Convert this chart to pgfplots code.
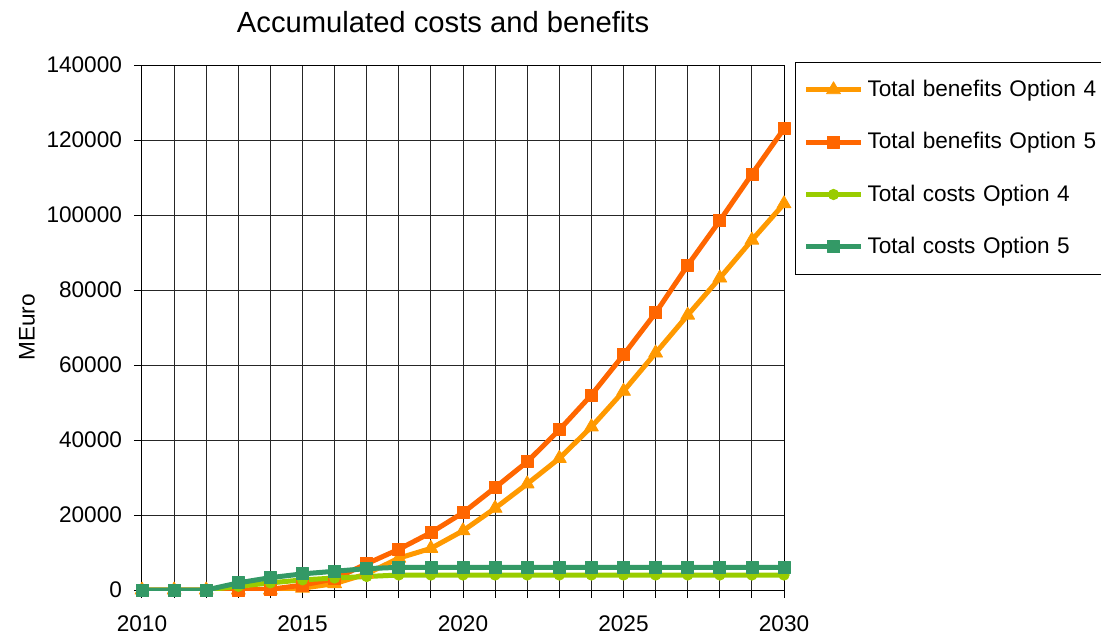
\documentclass[border=0pt]{standalone}
\usepackage{fontspec}
\setmainfont{Liberation Sans}
\usepackage{pgfplots}
\pgfplotsset{compat=1.18}
\definecolor{cOrange}{HTML}{FF9900}
\definecolor{cDarkOrange}{HTML}{FF6600}
\definecolor{cLightGreen}{HTML}{99CC00}
\definecolor{cSeaGreen}{HTML}{339966}
\begin{document}
\begin{tikzpicture}
\begin{axis}[
  name=ax,
  width=321pt, height=262.5pt, scale only axis,
  xmin=2010, xmax=2030, ymin=0, ymax=140000,
  xtick={2010,2011,...,2030},
  xticklabels={2010,,,,,2015,,,,,2020,,,,,2025,,,,,2030},
  ytick={0,20000,...,140000},
  scaled y ticks=false,
  yticklabel style={/pgf/number format/fixed,/pgf/number format/1000 sep={}, xshift=-2.5pt},
  xticklabel style={yshift=-5.5pt},
  /pgf/number format/assume math mode=true,
  tick label style={font=\fontsize{11.3pt}{13pt}\selectfont, black},
  tick pos=left,
  tick align=outside, major tick length=4pt,
  tick style={black, line width=0.5pt},
  grid=major,
  major grid style={black!85, line width=0.5pt},
  axis line style={black, line width=0.5pt},
  title={Accumulated costs and benefits},
  title style={font=\fontsize{14.6pt}{17pt}\selectfont, at={(0.469,1)}, anchor=center, yshift=15.5pt},
  ylabel={MEuro},
  ylabel style={font=\fontsize{11.3pt}{13pt}\selectfont, at={(axis description cs:-0.179,0.5)}, anchor=center},
  legend style={at={(1.017,1.006)}, anchor=north west, draw=black, line width=0.6pt,
    font=\fontsize{11.3pt}{13pt}\selectfont, row sep=12.5pt, inner xsep=4pt, inner ysep=6.8pt,
    text width=118pt},
  legend cell align=left,
  legend image code/.code={\draw[mark repeat=2,mark phase=2] plot coordinates {(0pt,0pt)(13.75pt,0pt)(27.5pt,0pt)};},
  every axis plot/.append style={line width=2.5pt, line join=round},
]
\addplot[color=cOrange, mark=triangle*, mark size=4pt, mark options={solid, line width=0.4pt}] coordinates {
(2010,0)(2011,0)(2012,0)(2013,0)(2014,0)(2015,500)(2016,1700)(2017,4300)(2018,8500)(2019,11100)
(2020,15800)(2021,21800)(2022,28300)(2023,35100)(2024,43500)(2025,53000)(2026,63200)(2027,73300)
(2028,83200)(2029,93300)(2030,103000)};
\addlegendentry{Total benefits Option 4}
\addplot[color=cDarkOrange, mark=square*, mark size=3pt, mark options={solid, line width=0.4pt}] coordinates {
(2010,0)(2011,0)(2012,0)(2013,0)(2014,200)(2015,1300)(2016,3000)(2017,7000)(2018,10850)(2019,15300)
(2020,20600)(2021,27300)(2022,34200)(2023,42700)(2024,52000)(2025,62700)(2026,73900)(2027,86600)
(2028,98500)(2029,110900)(2030,123000)};
\addlegendentry{Total benefits Option 5}
\addplot[color=cLightGreen, mark=*, mark size=2.6pt, mark options={solid, line width=0.4pt}] coordinates {
(2010,0)(2011,0)(2012,0)(2013,1000)(2014,1900)(2015,2700)(2016,3200)(2017,3600)(2018,4000)(2019,4000)
(2020,4000)(2021,4000)(2022,4000)(2023,4000)(2024,4000)(2025,4000)(2026,4000)(2027,4000)
(2028,4000)(2029,4000)(2030,4000)};
\addlegendentry{Total costs Option 4}
\addplot[color=cSeaGreen, mark=square*, mark size=3pt, mark options={solid, line width=0.4pt}] coordinates {
(2010,0)(2011,0)(2012,0)(2013,1900)(2014,3300)(2015,4300)(2016,5000)(2017,5700)(2018,6050)(2019,6050)
(2020,6050)(2021,6050)(2022,6050)(2023,6050)(2024,6050)(2025,6050)(2026,6050)(2027,6050)
(2028,6050)(2029,6050)(2030,6050)};
\addlegendentry{Total costs Option 5}
\end{axis}
\pgfresetboundingbox
\path[use as bounding box] ([shift={(-71pt,-24.5pt)}]ax.south west) rectangle ([shift={(158.5pt,32.5pt)}]ax.north east);
\end{tikzpicture}
\end{document}
